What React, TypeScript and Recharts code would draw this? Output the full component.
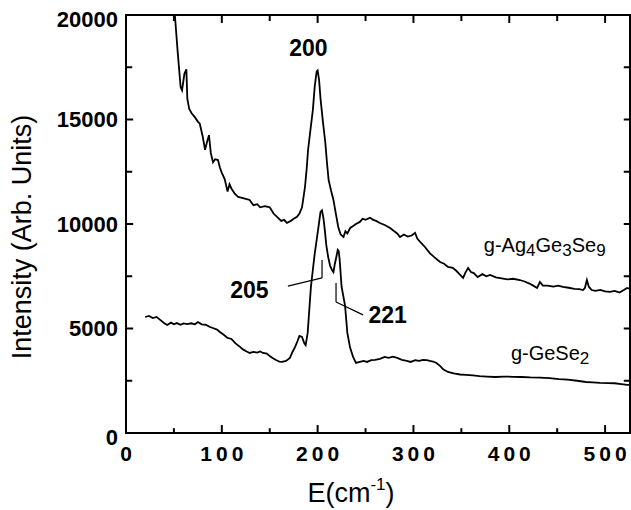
import { LineChart, Line, XAxis, YAxis, ReferenceLine, ReferenceDot, usePlotArea } from "recharts";

const FONT = '"Liberation Sans", Arial, Helvetica, sans-serif';

const xTicks = [0, 50, 100, 150, 200, 250, 300, 350, 400, 450, 500];
const yTicks = [0, 2500, 5000, 7500, 10000, 12500, 15000, 17500, 20000];

// g-Ag4Ge3Se9 spectrum
const agX = [
  51, 54, 57, 58.5, 61, 63, 64, 66, 68.5, 72, 75, 77, 80, 82.5, 85, 86.6, 88.5, 90.8, 93, 96, 98, 100, 103, 106,
  108, 110, 113.5, 117, 121, 125, 129, 133, 137, 140, 145, 150, 154, 158.7, 162, 165, 168, 172, 175, 178.5, 181,
  183.7, 185, 186.8, 188.5, 190, 192.5, 195, 197, 199, 200, 201.5, 203, 205.5, 208, 210, 211.5, 214, 216.5, 219,
  221.5, 224, 227, 229, 231, 234, 237, 240, 244, 247, 250, 254.7, 258, 261, 265, 270, 275.6, 280, 283, 286, 290,
  294, 298, 301.7, 304, 307, 312, 317, 322, 327.8, 332, 336, 341, 345, 348, 351.8, 354, 357, 360, 363, 367, 372,
  376, 380, 386, 392, 398, 404, 411, 416, 421, 425, 429, 432, 435, 440, 446, 451, 456, 462, 468, 473, 477, 479,
  481, 483, 486, 490, 495, 500, 505, 510, 515, 520, 523, 526
];
const agY = [
  20000, 18200, 16550, 16400, 17200, 17400, 16000, 15500, 15300, 15100, 14900, 14800, 14200, 13550, 14000, 14250,
  13400, 12950, 13100, 13060, 12700, 12450, 12150, 11550, 11900, 11700, 11450, 11300, 11250, 11200, 11150, 10900,
  10950, 10800, 10850, 10800, 10500, 10290, 10150, 10200, 10050, 10150, 10250, 10340, 10500, 10800, 11200, 11770,
  12600, 13540, 14500, 15450, 16600, 17300, 17350, 16900, 16000, 14900, 13900, 12800, 12100, 11600, 11150, 10500,
  9860, 9500, 9380, 9650, 9550, 9810, 9900, 10000, 10100, 10250, 10200, 10300, 10200, 10150, 10050, 9950, 9810,
  9650, 9550, 9380, 9500, 9400, 9450, 9570, 9300, 9140, 8900, 8610, 8400, 8180, 8100, 7950, 7900, 7750, 7600,
  7420, 7650, 7900, 7700, 7650, 7460, 7600, 7500, 7560, 7450, 7400, 7350, 7380, 7320, 7250, 7150, 7050, 6940,
  7225, 7050, 7050, 7000, 7050, 6990, 6950, 6900, 6880, 6840, 6950, 7320, 7000, 6840, 6800, 6850, 6780, 6750,
  6800, 6720, 6850, 6940, 6900
];

// g-GeSe2 spectrum
const geX = [
  20, 24, 28, 32, 36, 40, 43, 47, 50, 53, 57, 60, 64, 68, 72, 75, 79, 83, 87.7, 92, 95, 98, 102, 106, 110, 114,
  119, 122, 126, 129, 133, 137, 140, 143, 147, 150, 153, 157, 160, 163, 167, 171, 174, 176.5, 179, 181, 183.7,
  186, 187.5, 189.6, 191.5, 193, 195, 197, 199, 201, 203, 204.5, 206, 207.5, 209, 211, 213, 215, 216.5, 218,
  219.5, 221, 222, 223, 225, 228.6, 231, 233.8, 237, 240, 244, 248, 251.5, 256, 260, 265, 270, 274, 278.7, 283,
  288, 293, 297, 302, 306, 310, 314, 317, 320.5, 324, 328, 331, 336, 342, 348.6, 355, 362, 369, 376.8, 385, 395,
  404, 413, 422, 432, 442, 452, 461, 470.8, 480, 487, 494.8, 503, 510, 517, 523, 526
];
const geY = [
  5550, 5600, 5500, 5550, 5400, 5250, 5170, 5280, 5200, 5260, 5180, 5240, 5210, 5250, 5200, 5310, 5200, 5180,
  5070, 5000, 4950, 4830, 4700, 4550, 4500, 4300, 4120, 4000, 3900, 3830, 3880, 3850, 3900, 3830, 3800, 3680,
  3590, 3480, 3420, 3400, 3450, 3590, 3900, 4120, 4400, 4650, 4600, 4300, 4200, 4790, 6030, 7000, 7800, 8600,
  9240, 9900, 10580, 10650, 10300, 9710, 9000, 8420, 8000, 7800, 7700, 8100, 8420, 8760, 8700, 8280, 7000, 6100,
  4790, 4100, 3640, 3350, 3400, 3450, 3400, 3490, 3500, 3550, 3640, 3600, 3650, 3590, 3500, 3450, 3400, 3480,
  3450, 3500, 3490, 3450, 3420, 3350, 3200, 3050, 2920, 2850, 2800, 2780, 2760, 2720, 2700, 2680, 2700, 2690,
  2680, 2660, 2650, 2630, 2580, 2550, 2500, 2440, 2420, 2400, 2390, 2380, 2340, 2300, 2300, 2290
];

const agData = agX.map((x, i) => ({ x, y: agY[i] }));
const geData = geX.map((x, i) => ({ x, y: geY[i] }));

const X_MAX = 526;
const Y_MAX = 20000;
const ink = "#000";

function BottomTick(props: any) {
  const { x, y, payload } = props;
  const v = payload.value;
  if (v % 100 !== 0) return <g />;
  return (
    <text x={x + 2} y={y + 12} textAnchor="middle" dominantBaseline="central" fontFamily={FONT}
      fontWeight="bold" fontSize={21} letterSpacing={4} fill={ink}>{v}</text>
  );
}

function LeftTick(props: any) {
  const { x, y, payload } = props;
  const v = payload.value;
  if (v % 5000 !== 0) return <g />;
  const dy = v === 20000 || v === 0 ? 4 : 0;
  return (
    <text x={x} y={y + dy} textAnchor="end" dominantBaseline="central" fontFamily={FONT}
      fontWeight="bold" fontSize={22} fill={ink}>{v}</text>
  );
}

function textLabel(value: string, size: number) {
  return (props: any) => {
    const vb = props.viewBox;
    return (
      <text x={vb.x + vb.width / 2} y={vb.y + vb.height / 2} textAnchor="middle" dominantBaseline="central"
        fontFamily={FONT} fontWeight="bold" fontSize={size} fill={ink}>{value}</text>
    );
  };
}

function formulaLabel(parts: [string, boolean][], size: number) {
  return (props: any) => {
    const vb = props.viewBox;
    return (
      <text x={vb.x + vb.width / 2} y={vb.y + vb.height / 2} fontFamily={FONT} fontSize={size} fill={ink}>
        {parts.map(([t, sub], i) => (
          <tspan key={i} dy={sub ? 4 : i > 0 && parts[i - 1][1] ? -4 : 0} fontSize={sub ? size - 3 : size}>{t}</tspan>
        ))}
      </text>
    );
  };
}

function YTitle() {
  const cx = 22;
  const cy = 237;
  return (
    <text x={cx} y={cy} transform={`rotate(-90, ${cx}, ${cy})`} textAnchor="middle" dominantBaseline="central"
      fontFamily={FONT} fontSize={27} fill={ink}>Intensity (Arb. Units)</text>
  );
}

function XTitle() {
  return (
    <text x={351} y={493} textAnchor="middle" dominantBaseline="central" fontFamily={FONT} fontSize={27} fill={ink}>
      E(cm<tspan fontSize={17} dy={-9}>-1</tspan><tspan dy={9}>)</tspan>
    </text>
  );
}

// box round the plot area
function Frame() {
  const p = usePlotArea();
  if (!p) return null;
  return <rect x={p.x} y={p.y} width={p.width} height={p.height} fill="none" stroke={ink} strokeWidth={2} />;
}

// short inward tick marks on all four sides
const tickSegs: { x: number; y: number }[][] = [
  ...xTicks.filter((t) => t > 0).map((t) => [{ x: t, y: 0 }, { x: t, y: t % 100 === 0 ? 380 : 230 }]),
  ...xTicks.filter((t) => t > 0).map((t) => [{ x: t, y: Y_MAX }, { x: t, y: Y_MAX - (t % 100 === 0 ? 380 : 290) }]),
  ...yTicks.filter((t) => t > 0 && t < Y_MAX).map((t) => [{ x: 0, y: t }, { x: t % 5000 === 0 ? 7.5 : 6.5, y: t }]),
  ...yTicks.filter((t) => t > 0 && t < Y_MAX).map((t) => [{ x: X_MAX, y: t }, { x: X_MAX - 6.5, y: t }]),
];

export default function App() {
  return (
    <div style={{ position: "absolute", left: 0, top: 0 }}>
      <LineChart width={631} height={510} margin={{ top: 15, right: 1, bottom: 0, left: 26 }}>
        <XAxis xAxisId="b" dataKey="x" type="number" domain={[0, X_MAX]} ticks={xTicks} interval={0}
          height={77} tickLine={false} axisLine={{ stroke: ink, strokeWidth: 2 }} tick={BottomTick}
          label={{ content: XTitle }} />
        <YAxis yAxisId="l" type="number" domain={[0, Y_MAX]} ticks={yTicks} interval={0}
          width={100} tickLine={false} axisLine={{ stroke: ink, strokeWidth: 2 }} tick={LeftTick}
          label={{ content: YTitle }} />

        {tickSegs.map((seg, i) => (
          <ReferenceLine key={i} xAxisId="b" yAxisId="l" segment={seg} stroke={ink} strokeWidth={2} />
        ))}

        <Line xAxisId="b" yAxisId="l" data={agData} dataKey="y" type="linear" stroke={ink} strokeWidth={1.8}
          dot={false} isAnimationActive={false} />
        <Line xAxisId="b" yAxisId="l" data={geData} dataKey="y" type="linear" stroke={ink} strokeWidth={1.8}
          dot={false} isAnimationActive={false} />

        <ReferenceLine xAxisId="b" yAxisId="l" segment={[{ x: 169, y: 7030 }, { x: 204.6, y: 7420 }]}
          stroke={ink} strokeWidth={1.2} />
        <ReferenceLine xAxisId="b" yAxisId="l" segment={[{ x: 204.6, y: 7420 }, { x: 204.6, y: 8280 }]}
          stroke={ink} strokeWidth={1.2} />
        <ReferenceLine xAxisId="b" yAxisId="l" segment={[{ x: 219.2, y: 7180 }, { x: 219.2, y: 6270 }]}
          stroke={ink} strokeWidth={1.2} />
        <ReferenceLine xAxisId="b" yAxisId="l" segment={[{ x: 219.2, y: 6270 }, { x: 247.4, y: 5650 }]}
          stroke={ink} strokeWidth={1.2} />

        <ReferenceDot xAxisId="b" yAxisId="l" x={190.4} y={18420} r={0} fill="none" stroke="none"
          label={{ content: textLabel("200", 23) }} />
        <ReferenceDot xAxisId="b" yAxisId="l" x={128.7} y={6840} r={0} fill="none" stroke="none"
          label={{ content: textLabel("205", 23) }} />
        <ReferenceDot xAxisId="b" yAxisId="l" x={273} y={5650} r={0} fill="none" stroke="none"
          label={{ content: textLabel("221", 23) }} />
        <ReferenceDot xAxisId="b" yAxisId="l" x={373.4} y={8660} r={0} fill="none" stroke="none"
          label={{ content: formulaLabel([["g-Ag", false], ["4", true], ["Ge", false], ["3", true], ["Se", false], ["9", true]], 20) }} />
        <ReferenceDot xAxisId="b" yAxisId="l" x={401.7} y={3490} r={0} fill="none" stroke="none"
          label={{ content: formulaLabel([["g-GeSe", false], ["2", true]], 20) }} />

        <Frame />
      </LineChart>
    </div>
  );
}
